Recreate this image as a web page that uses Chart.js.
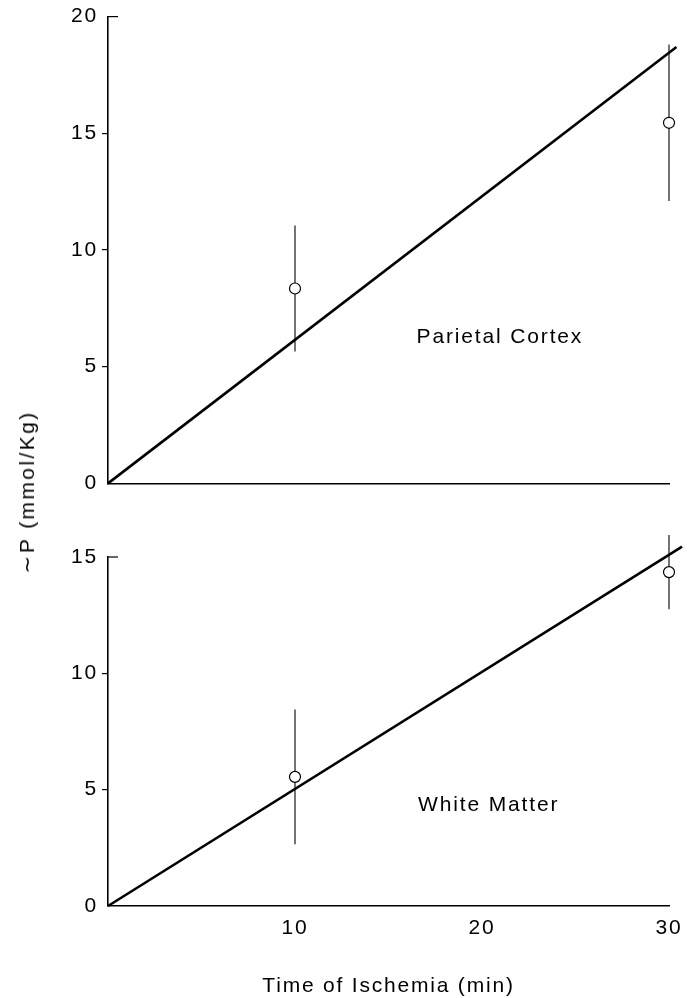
<!DOCTYPE html>
<html>
<head>
<meta charset="utf-8">
<script src="https://cdn.jsdelivr.net/npm/chart.js@4/dist/chart.umd.min.js"></script>
<style>
  html, body { margin: 0; padding: 0; background: #fff; overflow: hidden; }
  #wrap { position: relative; width: 697px; height: 998px; background: #fff; }
  #c1 { position: absolute; left: 0; top: 0; }
  #c2 { position: absolute; left: 0; top: 500px; }
  #ytitle {
    position: absolute; left: 27px; top: 492px;
    transform: translate(-50%, -50%) rotate(-90deg);
    font: 21px "Liberation Sans", Arial, sans-serif;
    letter-spacing: 2.4px; white-space: nowrap; color: #000;
  }
</style>
</head>
<body>
<div id="wrap">
  <canvas id="c1" width="697" height="500"></canvas>
  <canvas id="c2" width="697" height="498"></canvas>
  <div id="ytitle">∼P (mmol/Kg)</div>
</div>
<script>
// ---- data ----
const timePoints   = [10, 30];            // min
const cortexMean   = [8.35, 15.45];       // mmol/Kg
const cortexErr    = [2.7, 3.35];
const whiteMean    = [5.55, 14.35];
const whiteErr     = [2.9, 1.6];
const cortexFitX   = [0, 30.4];
const cortexFitY   = [0, 18.7];
const whiteFitX    = [0, 30.7];
const whiteFitY    = [0, 15.45];
const xTickValues  = [10, 20, 30];
const cortexYMax   = 20;
const whiteYMax    = 15;
const panelLabels  = ['Parietal Cortex', 'White Matter'];
const xTitle       = 'Time of Ischemia (min)';

const FONT = '"Liberation Sans", Arial, Helvetica, sans-serif';
Chart.defaults.font.family = FONT;
Chart.defaults.color = '#000';

const spacingPlugin = {
  id: 'spacing',
  beforeUpdate(chart) { chart.ctx.letterSpacing = '1.8px'; },
  beforeDraw(chart) { chart.ctx.letterSpacing = '1.8px'; }
};

const errorBarPlugin = {
  id: 'errbars',
  beforeDatasetsDraw(chart) {
    const { ctx, scales: { x, y } } = chart;
    chart.data.datasets.forEach(ds => {
      if (!ds.errors) return;
      ctx.save();
      ctx.strokeStyle = '#000';
      ctx.lineWidth = 1.1;
      ds.data.forEach((p, i) => {
        const px = x.getPixelForValue(p.x);
        ctx.beginPath();
        ctx.moveTo(px, y.getPixelForValue(p.y + ds.errors[i]));
        ctx.lineTo(px, y.getPixelForValue(p.y - ds.errors[i]));
        ctx.stroke();
      });
      ctx.restore();
    });
  }
};

const decorPlugin = {
  id: 'decor',
  afterDraw(chart, args, opts) {
    const { ctx, scales: { x, y } } = chart;
    ctx.save();
    // top tick turned inward at the axis maximum
    const yp = y.getPixelForValue(y.max);
    ctx.strokeStyle = '#000';
    ctx.lineWidth = 1.2;
    ctx.beginPath();
    ctx.moveTo(x.left - 0.8, yp);
    ctx.lineTo(x.left + 10, yp);
    ctx.stroke();
    // panel label
    ctx.fillStyle = '#000';
    ctx.font = '21px ' + FONT;
    ctx.letterSpacing = '1.85px';
    ctx.textAlign = 'left';
    ctx.textBaseline = 'middle';
    ctx.fillText(opts.text, x.getPixelForValue(opts.x), y.getPixelForValue(opts.y));
    ctx.restore();
  }
};

function makeConfig(mean, err, fitX, fitY, yMax, isBottom, label, labelPos, padTop, plotBottom, canvasH) {
  return {
    type: 'scatter',
    data: {
      datasets: [
        {
          data: timePoints.map((t, i) => ({ x: t, y: mean[i] })),
          errors: err,
          pointRadius: 5.5,
          pointBackgroundColor: '#fff',
          pointBorderColor: '#000',
          pointBorderWidth: 1.2,
          clip: false
        },
        {
          data: fitX.map((v, i) => ({ x: v, y: fitY[i] })),
          showLine: true,
          borderColor: '#000',
          borderWidth: 2.6,
          pointRadius: 0,
          clip: false
        }
      ]
    },
    options: {
      responsive: false,
      animation: false,
      events: [],
      layout: { padding: { top: padTop, right: 28, bottom: 0, left: 0 } },
      plugins: {
        legend: { display: false },
        tooltip: { enabled: false },
        decor: { text: label, x: labelPos[0], y: labelPos[1] }
      },
      scales: {
        x: {
          type: 'linear', min: 0, max: 30, position: 'bottom',
          afterBuildTicks(s) { s.ticks = xTickValues.map(v => ({ value: v })); },
          grid: { display: true, drawOnChartArea: false, drawTicks: false, color: 'rgba(0,0,0,0)' },
          border: { display: true, color: '#000', width: 1.6 },
          ticks: { display: isBottom, color: '#000', font: { size: 21 }, padding: 10, maxRotation: 0 },
          title: {
            display: isBottom, text: xTitle, color: '#000',
            font: { size: 21, lineHeight: 1.0 }, padding: { top: 0, bottom: 1 }
          },
          afterFit(s) { s.height = canvasH - plotBottom; }
        },
        y: {
          type: 'linear', min: 0, max: yMax, position: 'left',
          ticks: { stepSize: 5, color: '#000', font: { size: 21 }, padding: 4 },
          grid: {
            drawOnChartArea: false, drawTicks: true, tickLength: 6, lineWidth: 1.2,
            color: c => (c.tick && (c.tick.value === 0 || c.tick.value === yMax)) ? 'rgba(0,0,0,0)' : '#000'
          },
          border: { display: true, color: '#000', width: 1.6 },
          afterFit(s) { s.width = 108; }
        }
      }
    },
    plugins: [spacingPlugin, errorBarPlugin, decorPlugin]
  };
}

new Chart(document.getElementById('c1'),
  makeConfig(cortexMean, cortexErr, cortexFitX, cortexFitY, cortexYMax, false,
             panelLabels[0], [16.5, 6.28], 16.5, 486.5, 500));
new Chart(document.getElementById('c2'),
  makeConfig(whiteMean, whiteErr, whiteFitX, whiteFitY, whiteYMax, true,
             panelLabels[1], [16.58, 4.34], 57, 406, 498));
</script>
</body>
</html>
